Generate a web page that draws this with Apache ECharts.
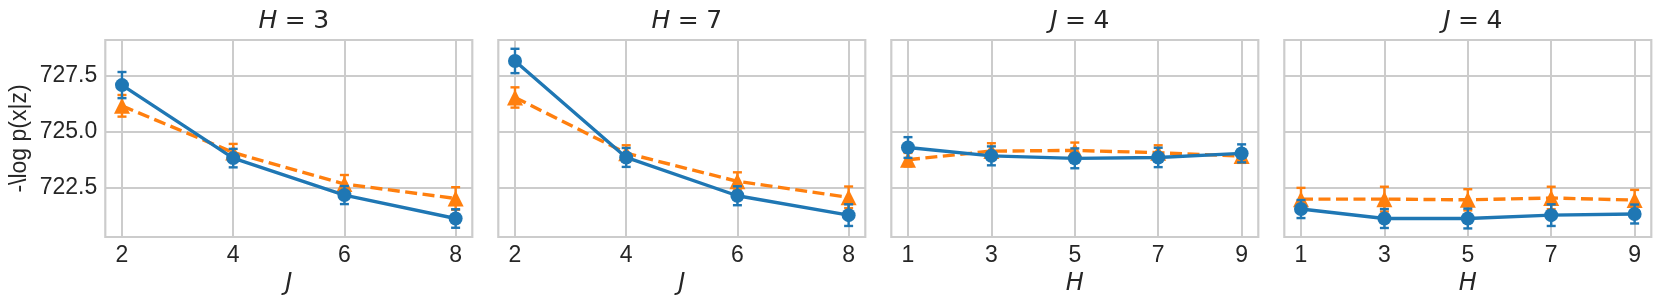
<!DOCTYPE html>
<html>
<head>
<meta charset="utf-8">
<script src="https://cdn.jsdelivr.net/npm/echarts@6/dist/echarts.min.js"></script>
<style>
html,body{margin:0;padding:0;background:#fff;}
#chart{width:1660px;height:308px;}
</style>
</head>
<body>
<div id="chart"></div>
<script>
// ---- data ----
const jValues = [2, 4, 6, 8];
const hValues = [1, 3, 5, 7, 9];
const jTicks = [2, 4, 6, 8];
const hTicks = [1, 3, 5, 7, 9];
const yTicks = [722.5, 725.0, 727.5];
const panelTitles = ['H = 3', 'H = 7', 'J = 4', 'J = 4'];
const xAxisNames = ['J', 'J', 'H', 'H'];
const yAxisName = '-\\log p(x|z)';

// panel 1: H = 3, x = J
const h3Blue      = [727.07, 723.83, 722.19, 721.15];
const h3BlueErr   = [0.58, 0.41, 0.40, 0.41];
const h3Orange    = [726.15, 724.08, 722.68, 722.04];
const h3OrangeErr = [0.48, 0.38, 0.40, 0.50];
// panel 2: H = 7, x = J
const h7Blue      = [728.14, 723.86, 722.16, 721.30];
const h7BlueErr   = [0.54, 0.42, 0.42, 0.48];
const h7Orange    = [726.52, 724.05, 722.80, 722.09];
const h7OrangeErr = [0.45, 0.35, 0.40, 0.48];
// panel 3: J = 4, x = H
const j4aBlue      = [724.30, 723.93, 723.82, 723.86, 724.04];
const j4aBlueErr   = [0.46, 0.42, 0.44, 0.43, 0.40];
const j4aOrange    = [723.76, 724.14, 724.17, 724.07, 723.92];
const j4aOrangeErr = [0.30, 0.35, 0.35, 0.33, 0.30];
// panel 4: J = 4, x = H
const j4bBlue      = [721.57, 721.15, 721.15, 721.30, 721.35];
const j4bBlueErr   = [0.40, 0.42, 0.44, 0.48, 0.42];
const j4bOrange    = [722.01, 722.01, 721.98, 722.06, 721.97];
const j4bOrangeErr = [0.50, 0.55, 0.47, 0.50, 0.45];

const yMin = 720.33, yMax = 729.07;
const jRange = [1.7, 8.3];
const hRange = [0.6, 9.4];

const BLUE = '#1f77b4', ORANGE = '#ff7f0e', GRIDC = '#cccccc';

const panels = [
  {x: jValues, ticks: jTicks, range: jRange, blue: h3Blue, blueErr: h3BlueErr, orange: h3Orange, orangeErr: h3OrangeErr},
  {x: jValues, ticks: jTicks, range: jRange, blue: h7Blue, blueErr: h7BlueErr, orange: h7Orange, orangeErr: h7OrangeErr},
  {x: hValues, ticks: hTicks, range: hRange, blue: j4aBlue, blueErr: j4aBlueErr, orange: j4aOrange, orangeErr: j4aOrangeErr},
  {x: hValues, ticks: hTicks, range: hRange, blue: j4bBlue, blueErr: j4bBlueErr, orange: j4bOrange, orangeErr: j4bOrangeErr}
];

const lefts = [105.3, 498.3, 891.3, 1284.3];
const W = 367, TOP = 40, H = 197;

function errRenderer(color) {
  return function (params, api) {
    const x = api.value(0), y = api.value(1), e = api.value(2);
    const hi = api.coord([x, y + e]);
    const lo = api.coord([x, y - e]);
    const w = 4.5;
    const st = {stroke: color, lineWidth: 2.4};
    return {type: 'group', children: [
      {type: 'line', shape: {x1: hi[0], y1: hi[1], x2: lo[0], y2: lo[1]}, style: st},
      {type: 'line', shape: {x1: hi[0] - w, y1: hi[1], x2: hi[0] + w, y2: hi[1]}, style: st},
      {type: 'line', shape: {x1: lo[0] - w, y1: lo[1], x2: lo[0] + w, y2: lo[1]}, style: st}
    ]};
  };
}

const grids = [], xAxes = [], yAxes = [], series = [], titles = [];
panels.forEach((p, i) => {
  grids.push({left: lefts[i], top: TOP, width: W, height: H, show: true,
    borderColor: GRIDC, borderWidth: 2.2, backgroundColor: '#fff'});
  const ti = panelTitles[i];
  titles.push({
    text: '{i|' + ti.charAt(0) + '}' + ti.slice(1).replace(/ /g, '\u2009\u200a'),
    left: lefts[i] + W / 2, top: 4, textAlign: 'center',
    textStyle: {fontFamily: 'DejaVu Sans', fontSize: 25, fontWeight: 'normal', color: '#262626',
      rich: {i: {fontFamily: 'DejaVu Sans', fontStyle: 'italic', fontSize: 25, color: '#262626'}}}
  });
  xAxes.push({type: 'value', gridIndex: i, min: p.range[0], max: p.range[1],
    name: xAxisNames[i], nameLocation: 'middle', nameGap: 32,
    nameTextStyle: {fontFamily: 'DejaVu Sans', fontStyle: 'italic', fontSize: 24, color: '#262626'},
    axisLine: {show: false}, axisTick: {show: false, customValues: p.ticks},
    axisLabel: {customValues: p.ticks, fontFamily: 'Liberation Sans', fontSize: 23, color: '#262626', margin: 7},
    splitLine: {show: true, lineStyle: {color: GRIDC, width: 2}}
  });
  yAxes.push({type: 'value', gridIndex: i, min: yMin, max: yMax,
    name: i === 0 ? yAxisName : '', nameLocation: 'middle', nameGap: 74, nameRotate: 90,
    nameTextStyle: {fontFamily: 'Liberation Sans', fontSize: 23, color: '#262626'},
    axisLine: {show: false}, axisTick: {show: false, customValues: yTicks},
    axisLabel: {show: i === 0, customValues: yTicks, fontFamily: 'Liberation Sans', fontSize: 23, color: '#262626', margin: 8,
      formatter: v => v.toFixed(1)},
    splitLine: {show: true, lineStyle: {color: GRIDC, width: 2}}
  });
  const od = p.x.map((x, k) => [x, p.orange[k], p.orangeErr[k]]);
  const bd = p.x.map((x, k) => [x, p.blue[k], p.blueErr[k]]);
  series.push({type: 'custom', xAxisIndex: i, yAxisIndex: i, renderItem: errRenderer(ORANGE),
    data: od, encode: {x: 0, y: 1}, z: 2, silent: true, clip: false});
  series.push({type: 'line', xAxisIndex: i, yAxisIndex: i, data: od.map(d => [d[0], d[1]]),
    symbol: 'triangle', symbolSize: 16, itemStyle: {color: ORANGE},
    lineStyle: {color: ORANGE, width: 3.4, type: [12, 5.5]}, z: 3, animation: false});
  series.push({type: 'custom', xAxisIndex: i, yAxisIndex: i, renderItem: errRenderer(BLUE),
    data: bd, encode: {x: 0, y: 1}, z: 4, silent: true, clip: false});
  series.push({type: 'line', xAxisIndex: i, yAxisIndex: i, data: bd.map(d => [d[0], d[1]]),
    symbol: 'circle', symbolSize: 14, itemStyle: {color: BLUE},
    lineStyle: {color: BLUE, width: 3.4}, z: 5, animation: false});
});

const chart = echarts.init(document.getElementById('chart'), null, {renderer: 'canvas'});
chart.setOption({
  animation: false,
  backgroundColor: '#fff',
  title: titles,
  grid: grids,
  xAxis: xAxes,
  yAxis: yAxes,
  series: series
});
</script>
</body>
</html>
